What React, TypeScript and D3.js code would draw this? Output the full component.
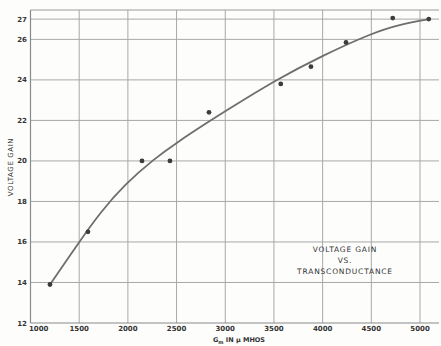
import React from "react";
import * as d3 from "d3";

const W = 441;
const H = 346;

// Measured points: transconductance (µmhos) vs voltage gain
const pointGm = [1200, 1590, 2145, 2432, 2833, 3570, 3880, 4240, 4720, 5090];
const pointGain = [13.9, 16.5, 20.0, 20.0, 22.4, 23.8, 24.65, 25.85, 27.05, 27.0];

// Smooth drawn curve
const curveGm = [1200, 1500, 1715, 1970, 2270, 2500, 2850, 3000, 3520, 4000, 4500, 4800, 5100];
const curveGain = [13.9, 16.0, 17.45, 18.85, 20.1, 20.9, 22.0, 22.45, 24.0, 25.2, 26.3, 26.75, 27.0];

const xTicks = [1000, 1500, 2000, 2500, 3000, 3500, 4000, 4500, 5000];
const yTicks = [12, 14, 16, 18, 20, 22, 24, 26, 27];

const titleLines = ["VOLTAGE GAIN", "VS.", "TRANSCONDUCTANCE"];

export default function App() {
  const x = d3.scaleLinear().domain([1000, 5195]).range([30.5, 439]);
  const y = d3.scaleLinear().domain([12, 27.45]).range([323, 10]);

  const curveData = curveGm.map((g, i) => [g, curveGain[i]] as [number, number]);
  const line = d3
    .line<[number, number]>()
    .x((d) => x(d[0]))
    .y((d) => y(d[1]))
    .curve(d3.curveBasis);

  const font = "'DejaVu Sans', sans-serif";
  const textColor = "#333";
  const gridColor = "#a8a8a8";

  return (
    <svg
      width={W}
      height={H}
      style={{ position: "absolute", left: 0, top: 0, background: "#fdfdfc" }}
    >
      {/* vertical grid lines */}
      {xTicks
        .filter((t) => t > 1000)
        .map((t) => (
          <line key={"vx" + t} x1={x(t)} x2={x(t)} y1={y(27.45)} y2={y(12)} stroke={gridColor} strokeWidth={1} />
        ))}
      {/* horizontal grid lines */}
      {yTicks
        .filter((t) => t > 12)
        .map((t) => (
          <line key={"hy" + t} x1={x(1000)} x2={x(5195)} y1={y(t)} y2={y(t)} stroke={gridColor} strokeWidth={1} />
        ))}
      {/* frame */}
      <line x1={x(1000)} x2={x(5195)} y1={y(27.45)} y2={y(27.45)} stroke="#9a9a9a" strokeWidth={1} />
      <line x1={x(1000)} x2={x(5195)} y1={y(12)} y2={y(12)} stroke="#8a8a8a" strokeWidth={1.2} />
      <line x1={x(1000)} x2={x(1000)} y1={y(27.45)} y2={y(12)} stroke="#8a8a8a" strokeWidth={1.2} />

      {/* curve */}
      <path d={line(curveData) || ""} fill="none" stroke="#6e6e6e" strokeWidth={1.8} />

      {/* points */}
      {pointGm.map((g, i) => (
        <circle key={"p" + i} cx={x(g)} cy={y(pointGain[i])} r={2.4} fill="#3c3c3c" />
      ))}

      {/* y tick labels */}
      {yTicks.map((t) => (
        <text
          key={"yl" + t}
          x={27}
          y={y(t) + 2.5}
          textAnchor="end"
          fontFamily={font}
          fontSize={7}
          fontWeight="bold"
          fill={textColor}
        >
          {t}
        </text>
      ))}
      {/* x tick labels */}
      {xTicks.map((t) => (
        <text
          key={"xl" + t}
          x={t === 1000 ? x(t) - 1.5 : x(t)}
          y={331}
          textAnchor={t === 1000 ? "start" : "middle"}
          fontFamily={font}
          fontSize={7}
          fontWeight="bold"
          fill={textColor}
        >
          {t}
        </text>
      ))}

      {/* axis titles */}
      <text x={239} y={342} textAnchor="middle" fontFamily={font} fontSize={6.5} fontWeight="bold" fill={textColor}>
        G<tspan fontSize={5} dy={1.5}>m</tspan>
        <tspan dy={-1.5}> IN </tspan>
        <tspan>μ MHOS</tspan>
      </text>
      <text
        transform={`translate(13, 167) rotate(-90)`}
        textAnchor="middle"
        fontFamily={font}
        fontSize={7}
        letterSpacing={0.6}
        fill={textColor}
      >
        VOLTAGE GAIN
      </text>

      {/* annotation */}
      {titleLines.map((s, i) => (
        <text
          key={"t" + i}
          x={345}
          y={252 + i * 11}
          textAnchor="middle"
          fontFamily={font}
          fontSize={7.5}
          letterSpacing={0.8}
          fill={textColor}
        >
          {s}
        </text>
      ))}
    </svg>
  );
}
